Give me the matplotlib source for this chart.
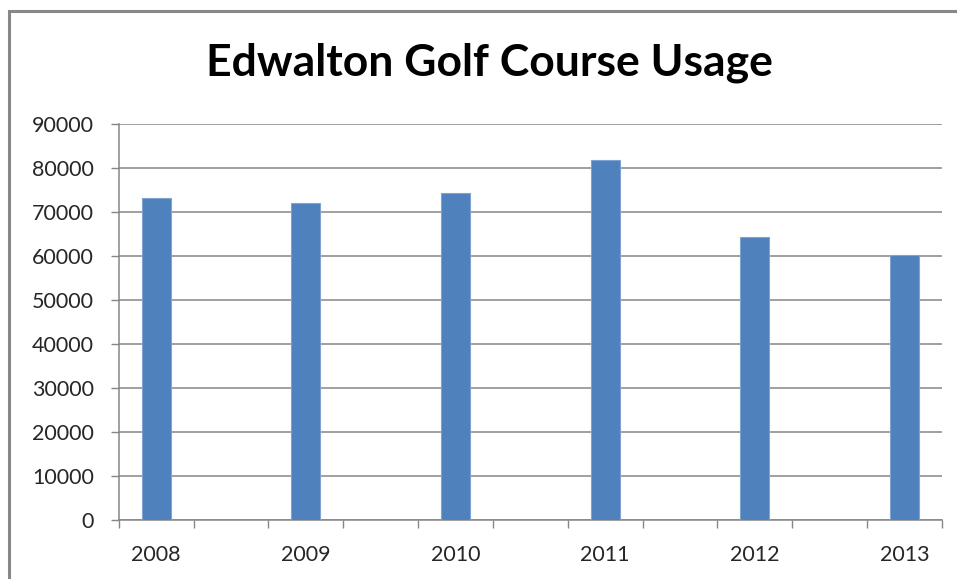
import matplotlib
matplotlib.use("Agg")
import matplotlib.pyplot as plt
from matplotlib.patches import Rectangle
from matplotlib.ticker import FixedLocator

years = ["2008", "2009", "2010", "2011", "2012", "2013"]
usage = [73100, 71950, 74250, 81800, 64400, 60300]
# The source chart has an empty category between each year
categories = []
values = []
for i, (y, v) in enumerate(zip(years, usage)):
    categories.append(y)
    values.append(v)
    if i < len(years) - 1:
        categories.append("")
        values.append(0)

yticks = list(range(0, 90001, 10000))

plt.rcParams['font.family'] = ['Lato', 'DejaVu Sans']

fig = plt.figure(figsize=(9.57, 5.79), dpi=100)
ax = fig.add_axes([118.7/957, 59/579, (942-118.7)/957, (520-124)/579])

x = list(range(len(categories)))
bar_x = [i for i, c in enumerate(categories) if c]
bar_v = [values[i] for i in bar_x]
ax.bar(bar_x, bar_v, width=0.39, color="#4F81BD", edgecolor="#7FA3D3", linewidth=0.8, zorder=3)

ax.set_xlim(-0.5, len(categories) - 0.5)
ax.set_ylim(0, 90000)
ax.set_yticks(yticks)
ax.set_yticklabels([str(t) for t in yticks], fontsize=15.5, color="#262626")

ax.set_xticks(x)
ax.set_xticklabels(categories, fontsize=15.5, color="#262626")
ax.tick_params(axis='x', which='major', length=0, pad=18)
ax.xaxis.set_minor_locator(FixedLocator([i - 0.5 for i in range(len(categories) + 1)]))
ax.tick_params(axis='x', which='minor', length=6, width=1, color="#868686", direction='out')
ax.tick_params(axis='y', length=6, width=1, color="#868686", direction='out', pad=12)

ax.yaxis.grid(True, color="#868686", linewidth=1.1, zorder=0)
ax.set_axisbelow(True)
for s in ['top', 'right']:
    ax.spines[s].set_visible(False)
for s in ['left', 'bottom']:
    ax.spines[s].set_color("#868686")
    ax.spines[s].set_linewidth(1.1)

fig.text(489/957, 1 - 63/579, "Edwalton Golf Course Usage", ha='center', va='center',
         fontsize=32, fontweight='bold', color='black')

border = Rectangle((9/957, -0.05), 1.2, 0.05 + (579 - 11)/579, transform=fig.transFigure,
                   fill=False, edgecolor="#888888", linewidth=2.2, clip_on=False)
fig.patches.append(border)

fig.savefig("out.png", dpi=100)
